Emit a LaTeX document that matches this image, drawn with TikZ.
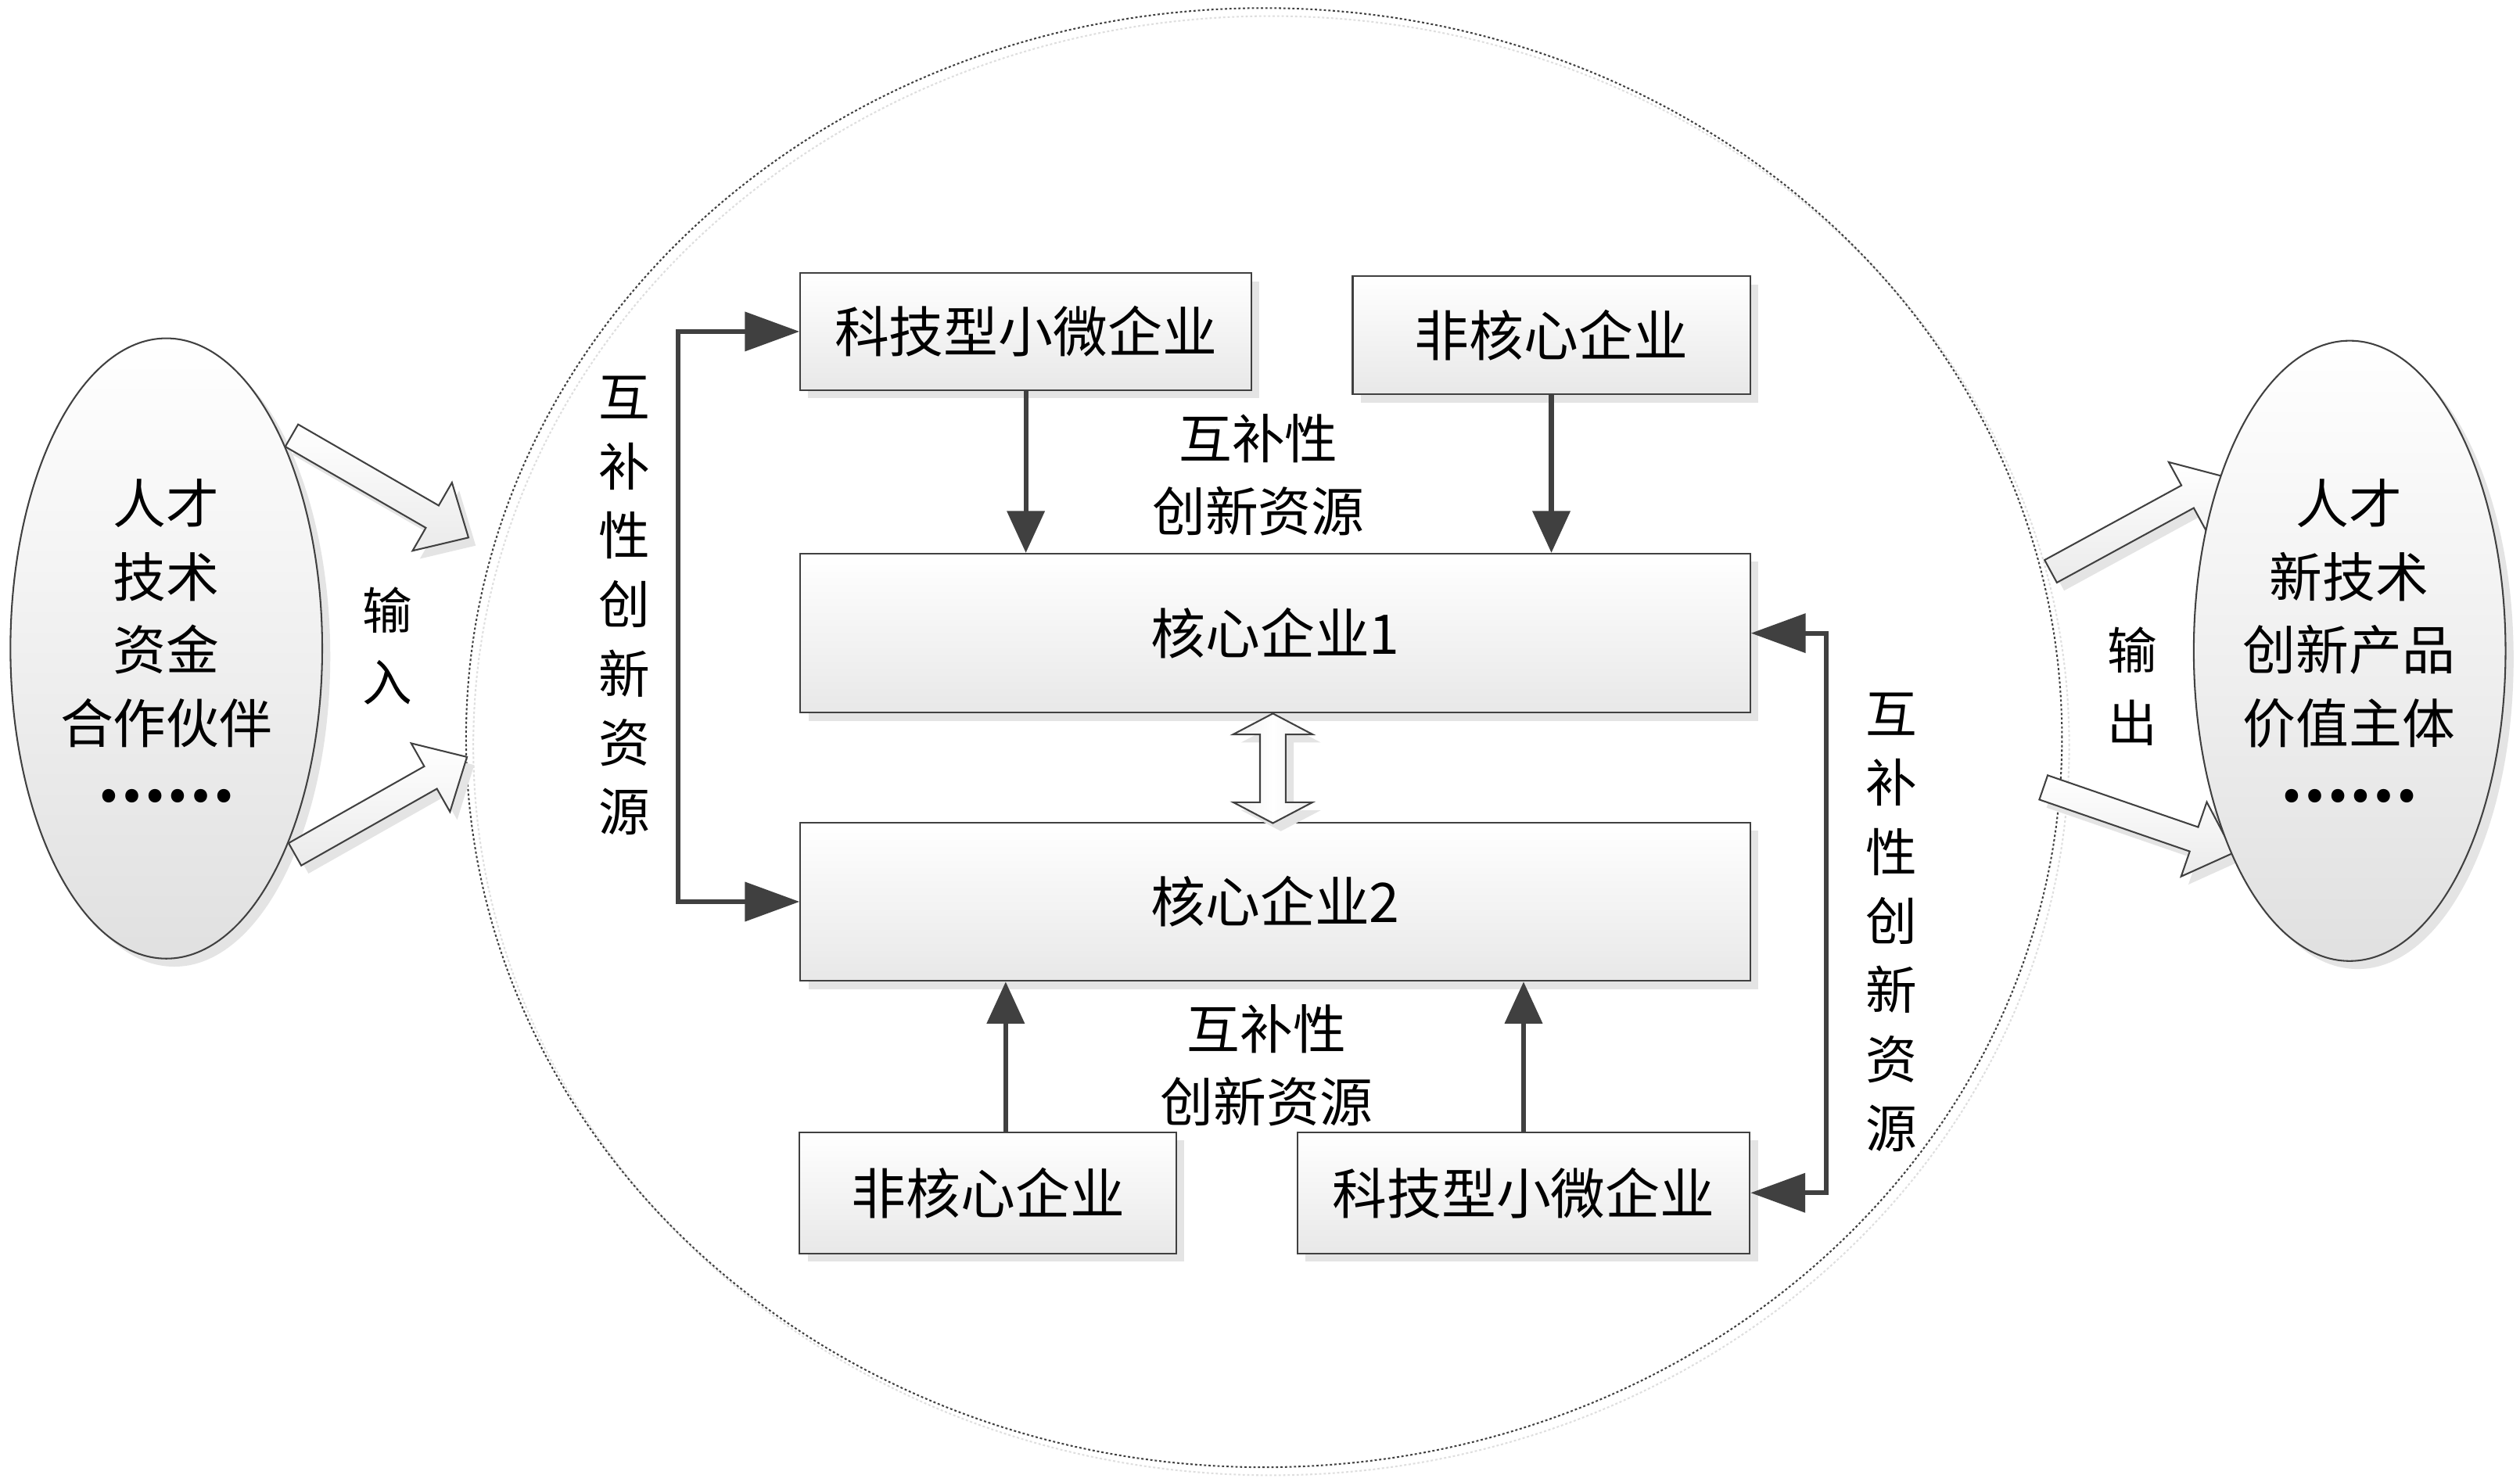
\documentclass[tikz,border=0pt]{standalone}
\usepackage{fontspec}
\setmainfont{Noto Sans CJK SC}
\usetikzlibrary{shapes.geometric,arrows.meta,shadows,calc}
\definecolor{dk}{HTML}{404040}
\definecolor{shd}{HTML}{E4E4E4}
\newcommand\blockarr[4]{%
  \fill[shd, shift={(#1+4.5,#2+5)}, rotate=#3] (0,-8) -- (#4-26,-8) -- (#4-26,-24.5) -- (#4,0) -- (#4-26,24.5) -- (#4-26,8) -- (0,8) -- cycle;
  \draw[blk, shift={(#1,#2)}, rotate=#3] (0,-8) -- (#4-26,-8) -- (#4-26,-24.5) -- (#4,0) -- (#4-26,24.5) -- (#4-26,8) -- (0,8) -- cycle;}
\newcommand\bigdots{{\bfseries\fontsize{19pt}{22.75pt}\selectfont\raisebox{4.5pt}{……}}}
\begin{document}
\begin{tikzpicture}[x=0.5pt,y=-0.5pt,
  box/.style={draw=dk, line width=0.5pt, top color=white, bottom color=black!9,
    drop shadow={shadow xshift=2.5pt, shadow yshift=-2.5pt, fill=shd, opacity=1},
    inner sep=0pt, font=\fontsize{17pt}{20pt}\selectfont},
  oval/.style={ellipse, draw=dk, line width=0.5pt, top color=white, bottom color=black!12,
    drop shadow={shadow xshift=2.5pt, shadow yshift=-2.5pt, fill=shd, opacity=1},
    minimum width=97pt, minimum height=193pt, inner sep=0pt},
  ovaltext/.style={align=center, inner sep=0pt, font=\fontsize{16.5pt}{22.75pt}\selectfont},
  lbl/.style={align=center, inner sep=0pt, font=\fontsize{16.5pt}{22.5pt}\selectfont},
  vlbl/.style={align=center, inner sep=0pt, font=\fontsize{16pt}{21.5pt}\selectfont},
  iolbl/.style={align=center, inner sep=0pt, font=\fontsize{15.5pt}{22.5pt}\selectfont},
  blk/.style={draw=dk, line width=0.5pt, top color=white, bottom color=black!8},
  dbl/.style={draw=dk, line width=0.5pt, left color=black!6, right color=black!6, middle color=white,
    drop shadow={shadow xshift=2.5pt, shadow yshift=-2.5pt, fill=shd, opacity=1}},
  conn/.style={draw=dk, line width=1.5pt},
  varr/.style={-{Triangle[length=13pt,width=11.5pt]}},
  dharr/.style={{Triangle[length=17pt,width=12pt]}-{Triangle[length=17pt,width=12pt]}},
  dotline/.style={line width=0.5pt, dash pattern=on 0.7pt off 0.7pt}
]
\fill[white] (0,0) rectangle (1568,922.2);
\useasboundingbox (0,0) rectangle (1568,922.2);

% big dotted ellipse
\draw[dotline, black!13] (791,464) ellipse [x radius=248.25pt, y radius=227pt];
\node[ellipse, draw=dk, dotline, minimum width=496.5pt, minimum height=454pt, inner sep=0pt] (big) at (786.5,459) {};

% left ellipse and input arrows
\node[oval] (le) at (103.5,403.5) {};
\node[ovaltext] (lt) at (103.5,403) {人才\\技术\\资金\\合作伙伴\\\bigdots};
\blockarr{181.5}{271}{-30}{127}
\blockarr{183.5}{531.6}{29.5}{123}
\node[iolbl] (inl) at (241,402) {输\\入};

% output arrows and right ellipse
\blockarr{1276}{355.5}{28.6}{123}
\blockarr{1271.5}{490}{-19}{125}
\node[oval] (re) at (1462,405) {};
\node[ovaltext] (rt) at (1461.5,403) {人才\\新技术\\创新产品\\价值主体\\\bigdots};
\node[iolbl] (outl) at (1327,427) {输\\出};

% boxes
\node[box, minimum width=140.35pt, minimum height=36.35pt] (k1) at (638.3,206.3) {科技型小微企业};
\node[box, minimum width=123.65pt, minimum height=36.75pt] (f1) at (965.3,208.7) {非核心企业};
\node[box, minimum width=295.5pt, minimum height=49.5pt] (c1) at (793.5,394) {核心企业1};
\node[box, minimum width=295.5pt, minimum height=49.3pt] (c2) at (793.5,561.1) {核心企业2};
\node[box, minimum width=117.25pt, minimum height=37.75pt] (f2) at (614.75,742.25) {非核心企业};
\node[box, minimum width=140.75pt, minimum height=37.75pt] (k2) at (948,742.25) {科技型小微企业};

% labels
\node[lbl] (lt1) at (783,295.5) {互补性\\创新资源};
\node[lbl] (lt2) at (788,663) {互补性\\创新资源};
\node[vlbl] (vl) at (388.5,377) {互\\补\\性\\创\\新\\资\\源};
\node[vlbl] (vr) at (1177,574) {互\\补\\性\\创\\新\\资\\源};

% connectors
\draw[conn, varr] (k1.south) -- (k1.south |- c1.north);
\draw[conn, varr] (f1.south) -- (f1.south |- c1.north);
\draw[conn, varr] ([xshift=5.5pt]f2.north) -- ([xshift=5.5pt]f2.north |- c2.south);
\draw[conn, varr] (k2.north) -- (k2.north |- c2.south);
\draw[conn, dharr] (k1.west) -- ++(-75.5,0) |- (c2.west);
\draw[conn, dharr] (c1.east) -- ++(47,0) |- (k2.east);

% double hollow arrow between core boxes
\draw[dbl] ([xshift=-0.75pt]c1.south) -- ++(24.75,13) -- ++(-16.75,0) -- ++(0,42.2) -- ++(16.75,0)
  -- ++(-24.75,13) -- ++(-24.75,-13) -- ++(16.75,0) -- ++(0,-42.2) -- ++(-16.75,0) -- cycle;
\end{tikzpicture}
\end{document}
